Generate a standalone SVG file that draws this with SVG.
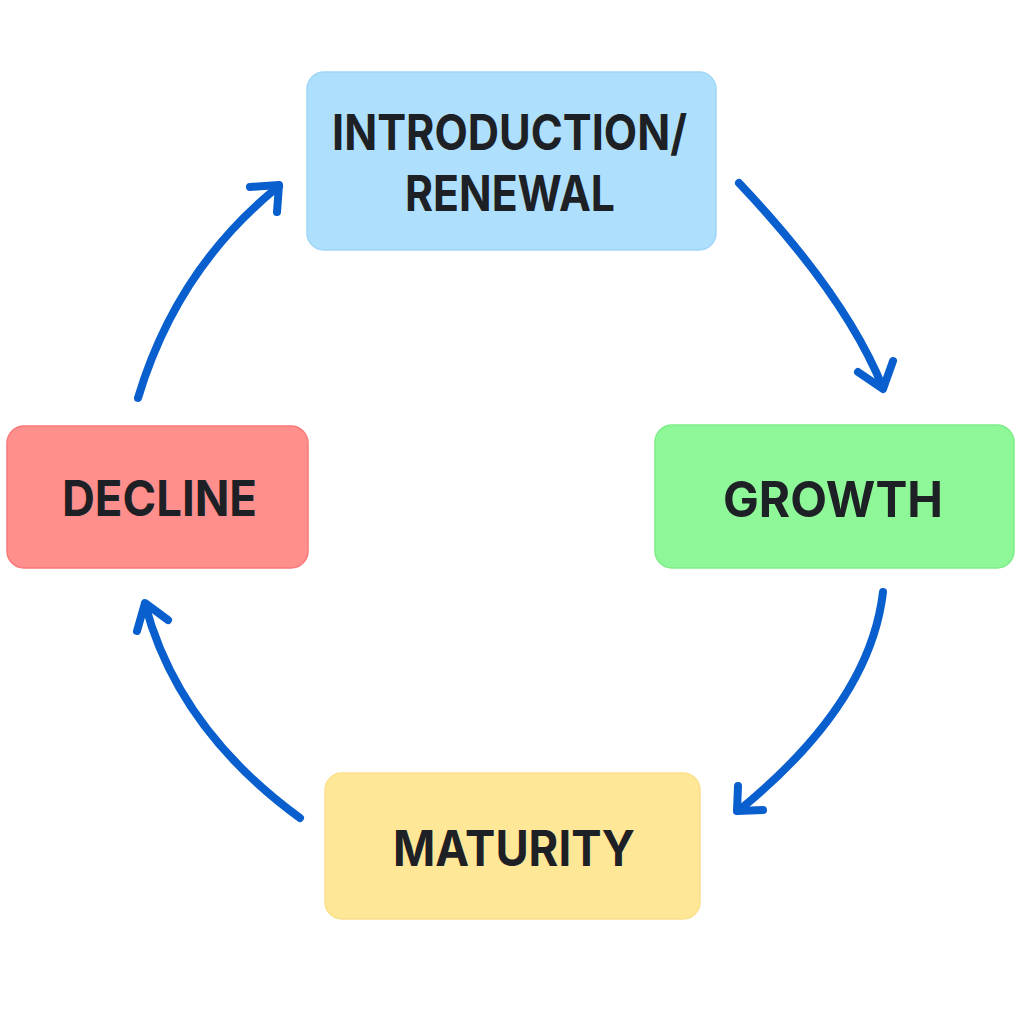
<svg xmlns="http://www.w3.org/2000/svg" width="1024" height="1024" viewBox="0 0 1024 1024">
  <style>
    .box { stroke-width: 1.5; }
    .label { font-family: Inter, "Open Sans", "Liberation Sans", sans-serif; font-weight: 700; font-size: 49px; fill: #1d2024; text-anchor: middle; }
    .conn { fill: none; stroke: #0a5fcf; stroke-width: 8; stroke-linecap: round; stroke-linejoin: round; }
  </style>
  <rect width="1024" height="1024" fill="#ffffff"/>
  <g id="intro">
    <rect class="box" x="307" y="72" width="409" height="178" rx="17" fill="#aee0fd" stroke="#9fd6f8"/>
    <text class="label" x="509.5" y="150" textLength="355" lengthAdjust="spacingAndGlyphs">INTRODUCTION/</text>
    <text class="label" x="510" y="211" textLength="210" lengthAdjust="spacingAndGlyphs">RENEWAL</text>
  </g>
  <g id="growth">
    <rect class="box" x="655" y="425" width="359" height="143" rx="17" fill="#8ef797" stroke="#7eee88"/>
    <text class="label" x="833" y="517" textLength="220" lengthAdjust="spacingAndGlyphs">GROWTH</text>
  </g>
  <g id="maturity">
    <rect class="box" x="325" y="773" width="375" height="146" rx="17" fill="#fee898" stroke="#fbe08a"/>
    <text class="label" x="514" y="866" textLength="242" lengthAdjust="spacingAndGlyphs">MATURITY</text>
  </g>
  <g id="decline">
    <rect class="box" x="7" y="426" width="301" height="142" rx="17" fill="#fe8f8d" stroke="#f87a78"/>
    <text class="label" x="159.5" y="516" textLength="195" lengthAdjust="spacingAndGlyphs">DECLINE</text>
  </g>
  <g id="connectors">
    <path class="conn" d="M739,183 Q846,296 883,388"/>
    <path class="conn" d="M858,372 L883,389 L893,361"/>
    <path class="conn" d="M883,592 Q870,704 738,811"/>
    <path class="conn" d="M738,786 L737,811 L763,810"/>
    <path class="conn" d="M300,818 Q178,729 145,604"/>
    <path class="conn" d="M137,631 L145,603 L168,620"/>
    <path class="conn" d="M138,398 Q177,268 279,186"/>
    <path class="conn" d="M250,187 L279,185 L277,212"/>
  </g>
</svg>
